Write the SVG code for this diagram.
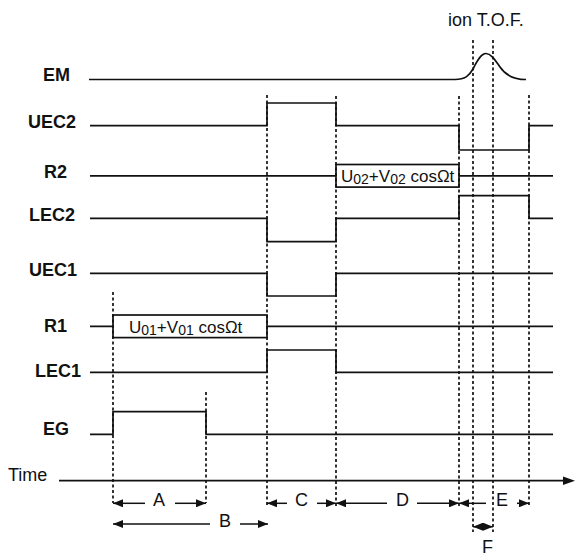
<svg xmlns="http://www.w3.org/2000/svg" width="575" height="556" viewBox="0 0 575 556">
<style>
.lbl{font-family:"Liberation Sans",Arial,sans-serif;font-weight:bold;font-size:18px;fill:#111}
.txt{font-family:"Liberation Sans",Arial,sans-serif;font-size:18px;fill:#111}
.box{font-family:"Liberation Sans",Arial,sans-serif;font-size:17px;fill:#111}
.sub{font-size:14px}
.sig{fill:none;stroke:#111;stroke-width:1.7}
.bx{fill:#fff;stroke:#111;stroke-width:1.7}
.dash{fill:none;stroke:#111;stroke-width:1.7;stroke-dasharray:3 2.5}
.arr{fill:none;stroke:#111;stroke-width:1.5}
</style>
<defs>
<marker id="ah" viewBox="0 0 10 8" refX="10" refY="4" markerWidth="10" markerHeight="8" markerUnits="userSpaceOnUse" orient="auto-start-reverse">
<path d="M0,0 L10,4 L0,8 Z" fill="#111"/>
</marker>
</defs>
<rect width="575" height="556" fill="#fff"/>

<g id="EM">
<text class="lbl" x="43" y="81">EM</text>
<path class="sig" d="M89,79.5 L455,79.5 C465,79.5 469,76 473,69 C477,61 481,53.5 486,53.5 C491,53.5 495,60 500,67 C506,76 514,79.5 526,79.5"/>
<text class="txt" x="448" y="26">ion T.O.F.</text>
</g>

<g id="UEC2">
<text class="lbl" x="28" y="128">UEC2</text>
<path class="sig" d="M90,125.7 H267 V103 H336 V125.7 H459 V150 H529 V125.7 H553"/>
</g>

<g id="R2">
<text class="lbl" x="44" y="178">R2</text>
<path class="sig" d="M90,175.8 H336 M459,175.8 H553"/>
<rect class="bx" x="336" y="164.5" width="123" height="22.6"/>
<text class="box" x="341" y="182">U<tspan class="sub" dy="2">02</tspan><tspan dy="-2">+V</tspan><tspan class="sub" dy="2">02</tspan><tspan dy="-2"> cosΩt</tspan></text>
</g>

<g id="LEC2">
<text class="lbl" x="29" y="221">LEC2</text>
<path class="sig" d="M90,218.3 H267 V241.7 H336 V218.3 H459 V195.7 H529 V218.3 H553"/>
</g>

<g id="UEC1">
<text class="lbl" x="29" y="276">UEC1</text>
<path class="sig" d="M90,273.3 H267 V296 H336 V273.3 H553"/>
</g>

<g id="R1">
<text class="lbl" x="44" y="332">R1</text>
<path class="sig" d="M90,326.3 H113 M267,326.3 H553"/>
<rect class="bx" x="113" y="315" width="154" height="22.6"/>
<text class="box" x="129" y="332.5">U<tspan class="sub" dy="2">01</tspan><tspan dy="-2">+V</tspan><tspan class="sub" dy="2">01</tspan><tspan dy="-2"> cosΩt</tspan></text>
</g>

<g id="LEC1">
<text class="lbl" x="35" y="377">LEC1</text>
<path class="sig" d="M90,372.3 H267 V350 H336 V372.3 H553"/>
</g>

<g id="EG">
<text class="lbl" x="43" y="435">EG</text>
<path class="sig" d="M90,434.3 H113 V411.7 H206 V434.3 H553"/>
</g>

<g id="Time">
<text class="txt" x="8" y="481">Time</text>
<line class="sig" x1="59" y1="480.7" x2="565" y2="480.7"/>
<path d="M575,480.7 L563,476.5 L563,484.9 Z" fill="#111"/>
</g>

<g id="connectors">
<line class="dash" x1="113" y1="292" x2="113" y2="503"/>
<line class="dash" x1="206" y1="392" x2="206" y2="503"/>
<line class="dash" x1="267" y1="95" x2="267" y2="505"/>
<line class="dash" x1="336" y1="96" x2="336" y2="506"/>
<line class="dash" x1="459" y1="96" x2="459" y2="506"/>
<line class="dash" x1="473" y1="40" x2="473" y2="532"/>
<line class="dash" x1="493" y1="40" x2="493" y2="532"/>
<line class="dash" x1="529" y1="95" x2="529" y2="506"/>

<line class="arr" x1="145" y1="503.3" x2="113" y2="503.3" marker-end="url(#ah)"/>
<line class="arr" x1="175" y1="503.3" x2="206" y2="503.3" marker-end="url(#ah)"/>
<text class="txt" x="153" y="506">A</text>

<line class="arr" x1="210" y1="524" x2="113" y2="524" marker-end="url(#ah)"/>
<line class="arr" x1="240" y1="524" x2="268" y2="524" marker-end="url(#ah)"/>
<text class="txt" x="219" y="527">B</text>

<line class="arr" x1="287" y1="503.3" x2="267" y2="503.3" marker-end="url(#ah)"/>
<line class="arr" x1="317" y1="503.3" x2="336" y2="503.3" marker-end="url(#ah)"/>
<text class="txt" x="295" y="506">C</text>

<line class="arr" x1="387" y1="503.3" x2="336" y2="503.3" marker-end="url(#ah)"/>
<line class="arr" x1="417" y1="503.3" x2="459" y2="503.3" marker-end="url(#ah)"/>
<text class="txt" x="396" y="506">D</text>

<line class="arr" x1="486" y1="503.3" x2="459" y2="503.3" marker-end="url(#ah)"/>
<line class="arr" x1="517" y1="503.3" x2="529" y2="503.3" marker-end="url(#ah)"/>
<text class="txt" x="496" y="506">E</text>

<line class="arr" x1="473" y1="526.7" x2="493" y2="526.7" marker-start="url(#ah)" marker-end="url(#ah)"/>
<text class="txt" x="482" y="553">F</text>
</g>
</svg>
